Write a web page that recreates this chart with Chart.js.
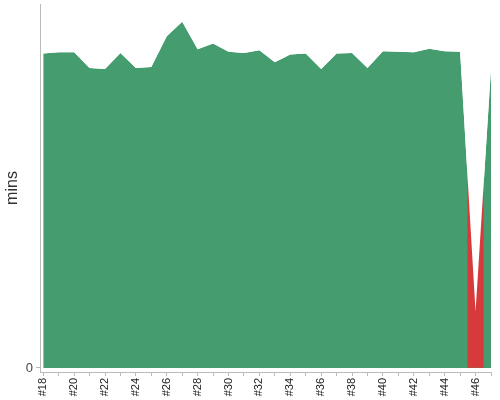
<!DOCTYPE html>
<html>
<head>
<meta charset="utf-8">
<script src="https://cdn.jsdelivr.net/npm/chart.js@4"></script>
<style>
  html, body { margin: 0; padding: 0; background: #fff; }
  #wrap { width: 500px; height: 400px; }
</style>
</head>
<body>
<div id="wrap"><canvas id="c"></canvas></div>
<script>
// episode numbers along the bottom
var episodes = ['#18','#19','#20','#21','#22','#23','#24','#25','#26','#27',
                '#28','#29','#30','#31','#32','#33','#34','#35','#36','#37',
                '#38','#39','#40','#41','#42','#43','#44','#45','#46','#47'];
// length in minutes
var mins = [60.5, 60.7, 60.7, 57.7, 57.5, 60.6, 57.7, 57.9, 63.8, 66.6,
            61.3, 62.4, 60.8, 60.6, 61.1, 58.8, 60.3, 60.5, 57.5, 60.5,
            60.6, 57.7, 60.9, 60.8, 60.7, 61.4, 60.9, 60.8, 10.8, 57.6];
// episodes shown in red
var flagged = [false,false,false,false,false,false,false,false,false,false,
               false,false,false,false,false,false,false,false,false,false,
               false,false,false,false,false,false,false,false,true,false];
var yTicks = [0];

var Y_MAX = 70;
var GREEN = '#459c6e';
var RED = '#d63a3a';

var points = mins.map(function(v, i) { return { x: i, y: v }; });
// red column under flagged episodes; the white fill above the line trims it
var redCols = flagged.map(function(f, i) { return { x: i, y: f ? Y_MAX : null }; });

new Chart(document.getElementById('c'), {
  type: 'line',
  data: {
    datasets: [{
      label: 'above',
      data: points,
      borderColor: 'rgba(0,0,0,0)',
      backgroundColor: '#ffffff',
      pointRadius: 0,
      tension: 0,
      fill: 'end'
    }, {
      type: 'bar',
      label: 'flagged',
      data: redCols,
      backgroundColor: RED,
      borderWidth: 0,
      barPercentage: 1,
      categoryPercentage: 1
    }, {
      label: 'mins',
      data: points,
      borderColor: 'rgba(0,0,0,0)',
      backgroundColor: GREEN,
      pointRadius: 0,
      tension: 0,
      fill: 'origin'
    }]
  },
  options: {
    responsive: true,
    maintainAspectRatio: false,
    animation: false,
    events: [],
    layout: { padding: { top: 4, right: 9, left: 0, bottom: 0 } },
    plugins: {
      legend: { display: false },
      tooltip: { enabled: false }
    },
    scales: {
      x: {
        type: 'linear',
        offset: false,
        min: -0.21,
        max: episodes.length - 1,
        afterFit: function(s) {
          s.height = 28;
          s.paddingLeft = 0;
          s.paddingRight = 0;
        },
        border: { color: '#bbbbbb' },
        grid: { drawOnChartArea: false, tickLength: 4, color: '#bbbbbb', offset: false },
        ticks: {
          stepSize: 1,
          autoSkip: false,
          includeBounds: false,
          minRotation: 90,
          maxRotation: 90,
          padding: 2,
          color: '#222',
          font: { family: 'Liberation Sans, Arial, sans-serif', size: 11 },
          callback: function(v) {
            return v % 2 === 0 ? episodes[v] : '';
          }
        }
      },
      y: {
        min: -0.77,
        max: Y_MAX,
        afterFit: function(s) {
          s.width = 40;
          s.paddingTop = 0;
          s.paddingBottom = 0;
        },
        afterBuildTicks: function(s) {
          s.ticks = yTicks.map(function(v) { return { value: v }; });
        },
        border: { color: '#bbbbbb' },
        grid: { drawOnChartArea: false, tickLength: 4, color: '#bbbbbb' },
        ticks: {
          padding: 3,
          color: '#444',
          font: { family: 'Liberation Sans, Arial, sans-serif', size: 13 }
        },
        title: {
          display: true,
          text: 'mins',
          color: '#333',
          padding: { top: 3, bottom: 0 },
          font: { family: 'Liberation Sans, Arial, sans-serif', size: 16 }
        }
      }
    }
  }
});
</script>
</body>
</html>
